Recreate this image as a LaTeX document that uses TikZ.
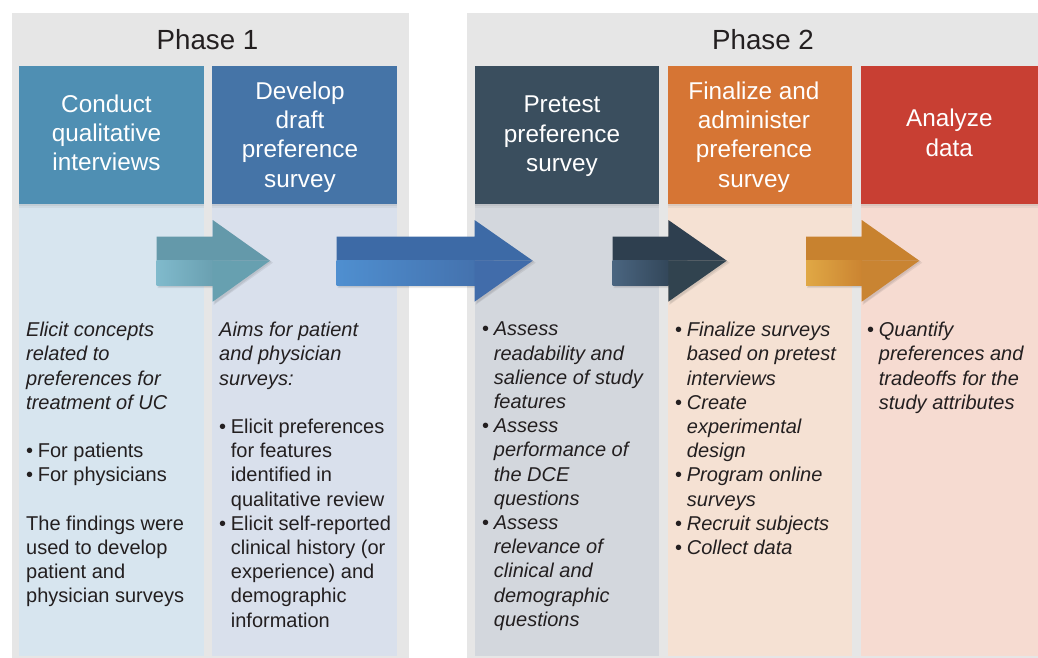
\documentclass[tikz,border=0pt]{standalone}
\usepackage{fontspec}
\setmainfont{Liberation Sans}
\usetikzlibrary{shadows}
\definecolor{panelgray}{HTML}{E6E6E6}
\definecolor{txt}{HTML}{231F20}
\definecolor{hA}{HTML}{4F8FB3}
\definecolor{hB}{HTML}{4574A7}
\definecolor{hC}{HTML}{3A4E5E}
\definecolor{hD}{HTML}{D67534}
\definecolor{hE}{HTML}{C83F33}
\definecolor{bA}{HTML}{D7E5EF}
\definecolor{bB}{HTML}{D9E0EC}
\definecolor{bC}{HTML}{D3D7DD}
\definecolor{bD}{HTML}{F5E1D3}
\definecolor{bE}{HTML}{F6DBD1}
% arrow colours
\definecolor{aAt}{HTML}{6499AA}\definecolor{aAl}{HTML}{80BACC}\definecolor{aAr}{HTML}{6AA0B1}\definecolor{aAh}{HTML}{67A0B0}
\definecolor{aBt}{HTML}{3D6AA6}\definecolor{aBl}{HTML}{4F8FD0}\definecolor{aBr}{HTML}{4472AE}\definecolor{aBh}{HTML}{416CAA}
\definecolor{aCt}{HTML}{2E3F4F}\definecolor{aCl}{HTML}{4A6580}\definecolor{aCr}{HTML}{33475A}\definecolor{aCh}{HTML}{31434F}
\definecolor{aDt}{HTML}{C8822F}\definecolor{aDl}{HTML}{E0A845}\definecolor{aDr}{HTML}{CB8431}\definecolor{aDh}{HTML}{C98432}
\newcommand\bulitem{\makebox[11.7pt][l]{\upshape\textbullet}}
\newcommand\contind{\hspace*{11.7pt}}
% #1 tail x, #2 head base x, #3 tip x, #4 top colour, #5 bottom-left, #6 bottom-right, #7 head-bottom
\newcommand\fatarrow[7]{%
  \fill[black,opacity=0.07] (#1+1,239) -- (#2+1,239) -- (#2+1,222.5) -- (#3+3,262.7) -- (#2+1,305) -- (#2+1,288) -- (#1+1,288) -- cycle;
  \fill[black,opacity=0.07] (#1+2,238) -- (#2+2,238) -- (#2+2,221.5) -- (#3+1.5,261.7) -- (#2+2,303.5) -- (#2+2,287) -- (#1+2,287) -- cycle;
  \fill[#4] (#1,236.7) -- (#2,236.7) -- (#2,220) -- (#3,260.7) -- (#1,260.7) -- cycle;
  \shade[left color=#5,right color=#6] (#1,260.4) rectangle (#2+0.3,285);
  \fill[#7] (#2,260.4) -- (#3,260.7) -- (#2,301.7) -- cycle;
}
\begin{document}
\begin{tikzpicture}[x=1pt,y=-1pt,
  panel/.style={fill=panelgray,draw=none},
  colbody/.style={draw=none,inner sep=0,minimum height=451.7pt},
  hdrbox/.style={draw=none,inner sep=0,minimum height=137.7pt,
     drop shadow={opacity=0.10,shadow xshift=0pt,shadow yshift=-4pt},
     drop shadow={opacity=0.14,shadow xshift=0pt,shadow yshift=-2pt}},
  hdrtext/.style={text=white,align=center,anchor=north,inner sep=0,
     font=\fontsize{24.3}{29.3}\selectfont},
  bodytext/.style={text=txt,align=left,anchor=north west,inner sep=0,
     font=\fontsize{20}{24.2}\selectfont},
  phasetitle/.style={text=txt,anchor=base,inner sep=0,
     font=\fontsize{27.7}{32}\selectfont}]
\useasboundingbox (0,0) rectangle (1038,658);
\fill[white] (0,0) rectangle (1038,658);

% panels
\fill[panel] (12,13) rectangle (409.3,657.5);
\fill[panel] (466.7,13) rectangle (1038,657.5);
\node[phasetitle] (p1) at (207.5,50) {Phase 1};
\node[phasetitle] (p2) at (763,50) {Phase 2};

% column bodies
\node[colbody,fill=bA,minimum width=184.7pt] (b1) at (111.65,429.85) {};
\node[colbody,fill=bB,minimum width=185pt]   (b2) at (304.8,429.85) {};
\node[colbody,fill=bC,minimum width=184pt]   (b3) at (567,429.85) {};
\node[colbody,fill=bD,minimum width=184.3pt] (b4) at (759.65,429.85) {};
\node[colbody,fill=bE,minimum width=177.3pt] (b5) at (949.35,429.85) {};

% header boxes
\node[hdrbox,fill=hA,minimum width=184.7pt] (h1) at (111.65,135.15) {};
\node[hdrbox,fill=hB,minimum width=185pt]   (h2) at (304.8,135.15) {};
\node[hdrbox,fill=hC,minimum width=184pt]   (h3) at (567,135.15) {};
\node[hdrbox,fill=hD,minimum width=184.3pt] (h4) at (759.65,135.15) {};
\node[hdrbox,fill=hE,minimum width=177.3pt] (h5) at (949.35,135.15) {};

\node[hdrtext] (t1) at (106.5,94.5) {Conduct\\qualitative\\interviews};
\node[hdrtext] (t2) at (300,81.5) {Develop\\draft\\preference\\survey};
\node[hdrtext] (t3) at (562,96) {Pretest\\preference\\survey};
\node[hdrtext] (t4) at (754,81.5) {Finalize and\\administer\\preference\\survey};
\node[hdrtext] (t5) at (949.3,109) {Analyze\\data};

% arrows
\fatarrow{156.7}{212.7}{270}{aAt}{aAl}{aAr}{aAh}
\fatarrow{336.7}{474.5}{532.7}{aBt}{aBl}{aBr}{aBh}
\fatarrow{612.7}{668.3}{726.7}{aCt}{aCl}{aCr}{aCh}
\fatarrow{806}{861.7}{919.3}{aDt}{aDl}{aDr}{aDh}

% body texts
\node[bodytext] (x1) at (26,322) {\itshape Elicit concepts\\\itshape related to\\\itshape preferences for\\\itshape treatment of UC\\[24.2pt]
\bulitem For patients\\\bulitem For physicians\\[24.2pt]
The findings were\\used to develop\\patient and\\physician surveys};

\node[bodytext] (x2) at (219,322) {\itshape Aims for patient\\\itshape and physician\\\itshape surveys:\\[24.2pt]
\bulitem Elicit preferences\\\contind for features\\\contind identified in\\\contind qualitative review\\
\bulitem Elicit self-reported\\\contind clinical history (or\\\contind experience) and\\\contind demographic\\\contind information};

\node[bodytext,font=\fontsize{20}{24.2}\selectfont\itshape] (x3) at (482,322) {\bulitem Assess\\\contind readability and\\\contind salience of study\\\contind features\\
\bulitem Assess\\\contind performance of\\\contind the DCE\\\contind questions\\
\bulitem Assess\\\contind relevance of\\\contind clinical and\\\contind demographic\\\contind questions};

\node[bodytext,font=\fontsize{20}{24.2}\selectfont\itshape] (x4) at (675,322) {\bulitem Finalize surveys\\\contind based on pretest\\\contind interviews\\
\bulitem Create\\\contind experimental\\\contind design\\
\bulitem Program online\\\contind surveys\\
\bulitem Recruit subjects\\
\bulitem Collect data};

\node[bodytext,font=\fontsize{20}{24.2}\selectfont\itshape] (x5) at (867,322) {\bulitem Quantify\\\contind preferences and\\\contind tradeoffs for the\\\contind study attributes};
\end{tikzpicture}
\end{document}
